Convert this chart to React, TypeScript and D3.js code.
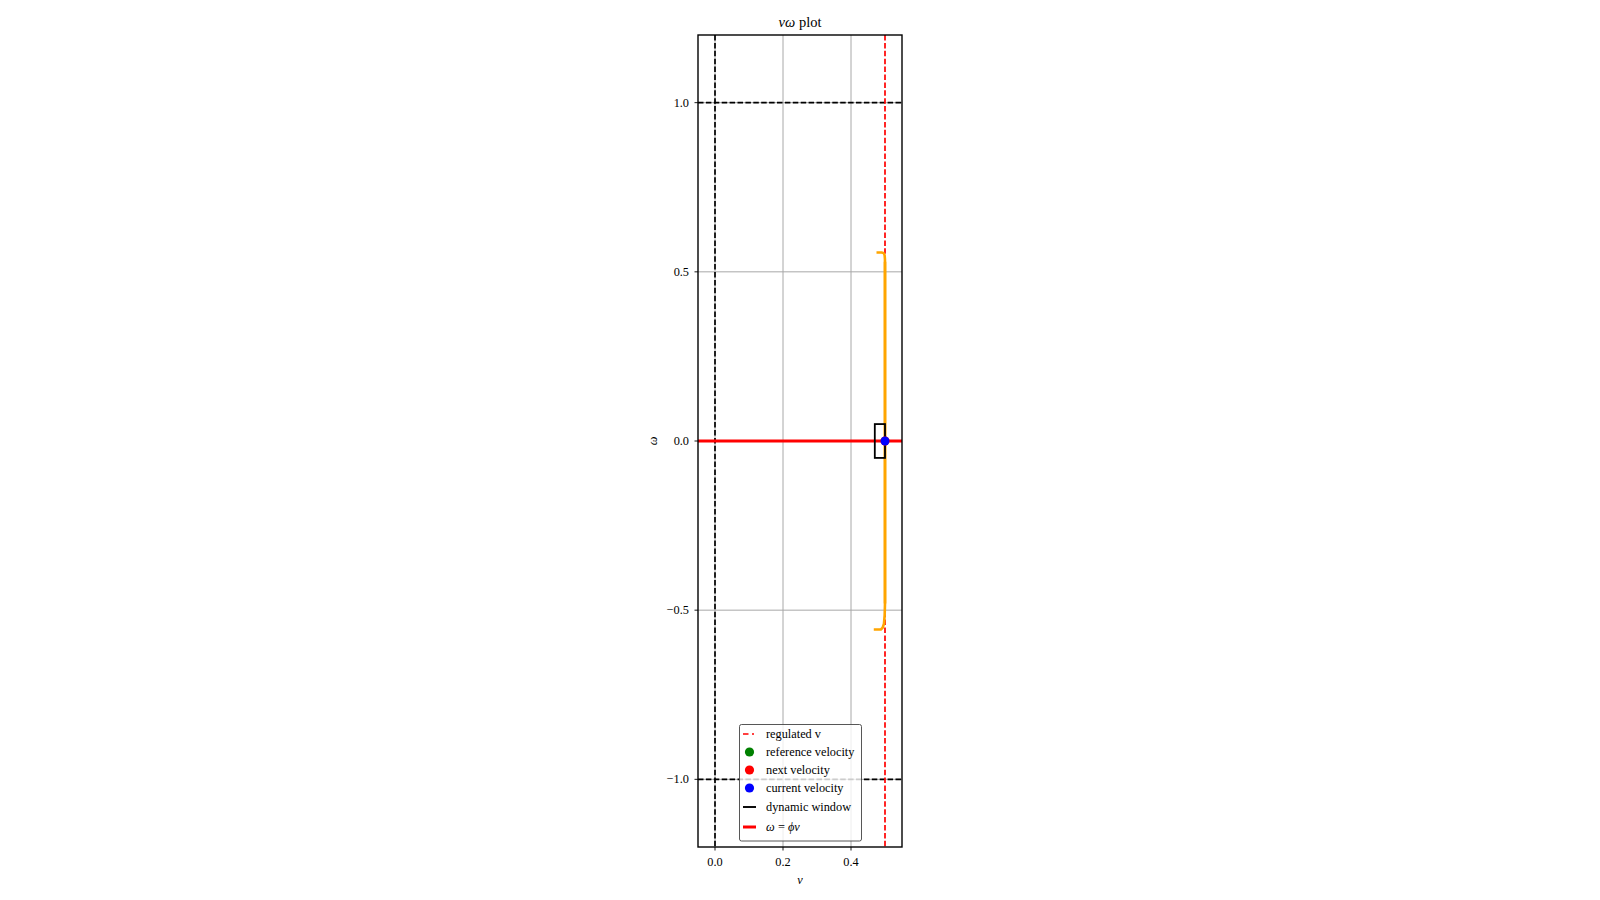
import React, { useEffect, useRef } from 'react';
import * as d3 from 'd3';

const X_DOMAIN: [number, number] = [-0.05, 0.55];
const Y_DOMAIN: [number, number] = [-1.2, 1.2];
const X_TICKS = [0.0, 0.2, 0.4];
const Y_TICKS = [-1.0, -0.5, 0.0, 0.5, 1.0];

// velocity limits
const V_LIMITS = [0.0];
const W_LIMITS = [-1.0, 1.0];
const REGULATED_V = 0.5;
const PHI = 0.0;

// trajectory of the reachable set (v, omega)
const ORANGE_V = [0.475, 0.49, 0.496, 0.499, 0.5, 0.5, 0.499, 0.497, 0.493, 0.488, 0.467];
const ORANGE_W = [0.557, 0.557, 0.555, 0.548, 0.53, -0.48, -0.515, -0.54, -0.552, -0.557, -0.557];

// dynamic window [vMin, vMax, wMin, wMax]
const WINDOW = [0.47, 0.5, -0.05, 0.05];

const CURRENT_VEL = [0.5, 0.0];
const NEXT_VEL = [0.5, 0.0];

const LEGEND_LABELS = ['regulated v', 'reference velocity', 'next velocity', 'current velocity', 'dynamic window', 'ω\u2009=\u2009ϕv'];

const MARGIN = { top: 35, left: 698, width: 204, height: 812 };
const FONT = '"Liberation Serif", "DejaVu Serif", serif';
const FS = 12.3;

const App: React.FC = () => {
    const svgRef = useRef<SVGSVGElement | null>(null);

    useEffect(() => {
        const svg = d3.select(svgRef.current);
        svg.selectAll('*').remove();

        const x = d3.scaleLinear().domain(X_DOMAIN).range([MARGIN.left, MARGIN.left + MARGIN.width]);
        const y = d3.scaleLinear().domain(Y_DOMAIN).range([MARGIN.top + MARGIN.height, MARGIN.top]);

        svg.append('defs').append('clipPath').attr('id', 'plot-clip')
            .append('rect')
            .attr('x', MARGIN.left).attr('y', MARGIN.top)
            .attr('width', MARGIN.width).attr('height', MARGIN.height);

        const plot = svg.append('g').attr('clip-path', 'url(#plot-clip)');

        // grid
        plot.selectAll('.gx').data(X_TICKS).enter().append('line')
            .attr('x1', d => x(d)).attr('x2', d => x(d))
            .attr('y1', MARGIN.top).attr('y2', MARGIN.top + MARGIN.height)
            .attr('stroke', '#a8a8a8').attr('stroke-width', 1);
        plot.selectAll('.gy').data(Y_TICKS).enter().append('line')
            .attr('y1', d => y(d)).attr('y2', d => y(d))
            .attr('x1', MARGIN.left).attr('x2', MARGIN.left + MARGIN.width)
            .attr('stroke', '#a8a8a8').attr('stroke-width', 1);

        // limits
        plot.selectAll('.vl').data(V_LIMITS).enter().append('line')
            .attr('x1', d => x(d)).attr('x2', d => x(d))
            .attr('y1', MARGIN.top).attr('y2', MARGIN.top + MARGIN.height)
            .attr('stroke', '#000').attr('stroke-width', 1.7).attr('stroke-dasharray', '5.5,2.4');
        plot.selectAll('.wl').data(W_LIMITS).enter().append('line')
            .attr('y1', d => y(d)).attr('y2', d => y(d))
            .attr('x1', MARGIN.left).attr('x2', MARGIN.left + MARGIN.width)
            .attr('stroke', '#000').attr('stroke-width', 1.7).attr('stroke-dasharray', '5.5,2.4');

        plot.append('line')
            .attr('x1', x(REGULATED_V)).attr('x2', x(REGULATED_V))
            .attr('y1', MARGIN.top).attr('y2', MARGIN.top + MARGIN.height)
            .attr('stroke', 'red').attr('stroke-width', 1.7).attr('stroke-dasharray', '5.5,2.4');

        // orange trajectory
        const pts: [number, number][] = ORANGE_V.map((v, i) => [v, ORANGE_W[i]]);
        plot.append('path')
            .attr('d', d3.line<[number, number]>().x(d => x(d[0])).y(d => y(d[1])).curve(d3.curveMonotoneY)(pts.slice(0, 6)) as string)
            .attr('fill', 'none').attr('stroke', 'orange').attr('stroke-width', 2.6);
        plot.append('path')
            .attr('d', d3.line<[number, number]>().x(d => x(d[0])).y(d => y(d[1]))(pts.slice(4)) as string)
            .attr('fill', 'none').attr('stroke', 'orange').attr('stroke-width', 2.6);

        // omega = phi v
        plot.append('line')
            .attr('x1', x(X_DOMAIN[0])).attr('x2', x(X_DOMAIN[1]))
            .attr('y1', y(PHI * X_DOMAIN[0])).attr('y2', y(PHI * X_DOMAIN[1]))
            .attr('stroke', 'red').attr('stroke-width', 3);

        // dynamic window
        plot.append('rect')
            .attr('x', x(WINDOW[0])).attr('y', y(WINDOW[3]))
            .attr('width', x(WINDOW[1]) - x(WINDOW[0]))
            .attr('height', y(WINDOW[2]) - y(WINDOW[3]))
            .attr('fill', 'none').attr('stroke', '#000').attr('stroke-width', 1.8);

        plot.append('circle').attr('cx', x(NEXT_VEL[0])).attr('cy', y(NEXT_VEL[1])).attr('r', 4.5).attr('fill', 'red');
        plot.append('circle').attr('cx', x(CURRENT_VEL[0])).attr('cy', y(CURRENT_VEL[1])).attr('r', 4.5).attr('fill', 'blue');

        // spines
        svg.append('rect')
            .attr('x', MARGIN.left).attr('y', MARGIN.top)
            .attr('width', MARGIN.width).attr('height', MARGIN.height)
            .attr('fill', 'none').attr('stroke', '#000').attr('stroke-width', 1.4);

        // ticks
        const fmt = (d: number) => d.toFixed(1).replace('-', '\u2212');
        const xt = svg.append('g').selectAll('g').data(X_TICKS).enter().append('g');
        xt.append('line')
            .attr('x1', d => x(d)).attr('x2', d => x(d))
            .attr('y1', MARGIN.top + MARGIN.height).attr('y2', MARGIN.top + MARGIN.height + 3.5)
            .attr('stroke', '#000').attr('stroke-width', 0.9);
        xt.append('text')
            .attr('x', d => x(d)).attr('y', MARGIN.top + MARGIN.height + 19)
            .attr('text-anchor', 'middle').attr('font-size', FS).attr('font-family', FONT)
            .text(d => fmt(d));

        const yt = svg.append('g').selectAll('g').data(Y_TICKS).enter().append('g');
        yt.append('line')
            .attr('y1', d => y(d)).attr('y2', d => y(d))
            .attr('x1', MARGIN.left).attr('x2', MARGIN.left - 3.5)
            .attr('stroke', '#000').attr('stroke-width', 0.9);
        yt.append('text')
            .attr('x', MARGIN.left - 9).attr('y', d => y(d))
            .attr('dy', '0.33em')
            .attr('text-anchor', 'end').attr('font-size', FS).attr('font-family', FONT)
            .text(d => fmt(d));

        // labels
        svg.append('text')
            .attr('x', MARGIN.left + MARGIN.width / 2).attr('y', 884)
            .attr('text-anchor', 'middle').attr('font-size', FS).attr('font-family', FONT)
            .attr('font-style', 'italic').text('v');
        svg.append('text')
            .attr('transform', `translate(657,${MARGIN.top + MARGIN.height / 2}) rotate(-90)`)
            .attr('text-anchor', 'middle').attr('font-size', FS).attr('font-family', FONT)
            .attr('font-style', 'italic').text('ω');

        const title = svg.append('text')
            .attr('x', MARGIN.left + MARGIN.width / 2).attr('y', 27)
            .attr('text-anchor', 'middle').attr('font-size', 14.5).attr('font-family', FONT);
        title.append('tspan').attr('font-style', 'italic').text('vω');
        title.append('tspan').text(' plot');

        // legend
        const lg = svg.append('g');
        lg.append('rect')
            .attr('x', 739.5).attr('y', 724.5).attr('width', 122).attr('height', 116.5).attr('rx', 2)
            .attr('fill', 'rgba(255,255,255,0.8)').attr('stroke', '#444').attr('stroke-width', 0.9);
        const rowsY = [734, 752, 770, 788, 807, 827];
        const hx0 = 743, hx1 = 756, hc = 749.5;
        lg.append('line').attr('x1', hx0).attr('x2', hx1).attr('y1', rowsY[0]).attr('y2', rowsY[0])
            .attr('stroke', 'red').attr('stroke-width', 1.7).attr('stroke-dasharray', '5.5,3.5,2,10');
        ['green', 'red', 'blue'].forEach((c, i) => {
            lg.append('circle').attr('cx', hc).attr('cy', rowsY[i + 1]).attr('r', 4.6).attr('fill', c);
        });
        lg.append('line').attr('x1', hx0).attr('x2', hx1).attr('y1', rowsY[4]).attr('y2', rowsY[4])
            .attr('stroke', '#000').attr('stroke-width', 1.9);
        lg.append('line').attr('x1', hx0).attr('x2', hx1).attr('y1', rowsY[5]).attr('y2', rowsY[5])
            .attr('stroke', 'red').attr('stroke-width', 3);
        LEGEND_LABELS.forEach((t, i) => {
            const tx = lg.append('text')
                .attr('x', 766).attr('y', rowsY[i]).attr('dy', '0.33em')
                .attr('font-size', FS).attr('font-family', FONT);
            if (i === 5) tx.attr('font-style', 'italic');
            tx.text(t);
        });
    }, []);

    return (
        <svg ref={svgRef} width={1600} height={900}
            style={{ position: 'absolute', left: 0, top: 0, background: '#fff' }} />
    );
};

export default App;
